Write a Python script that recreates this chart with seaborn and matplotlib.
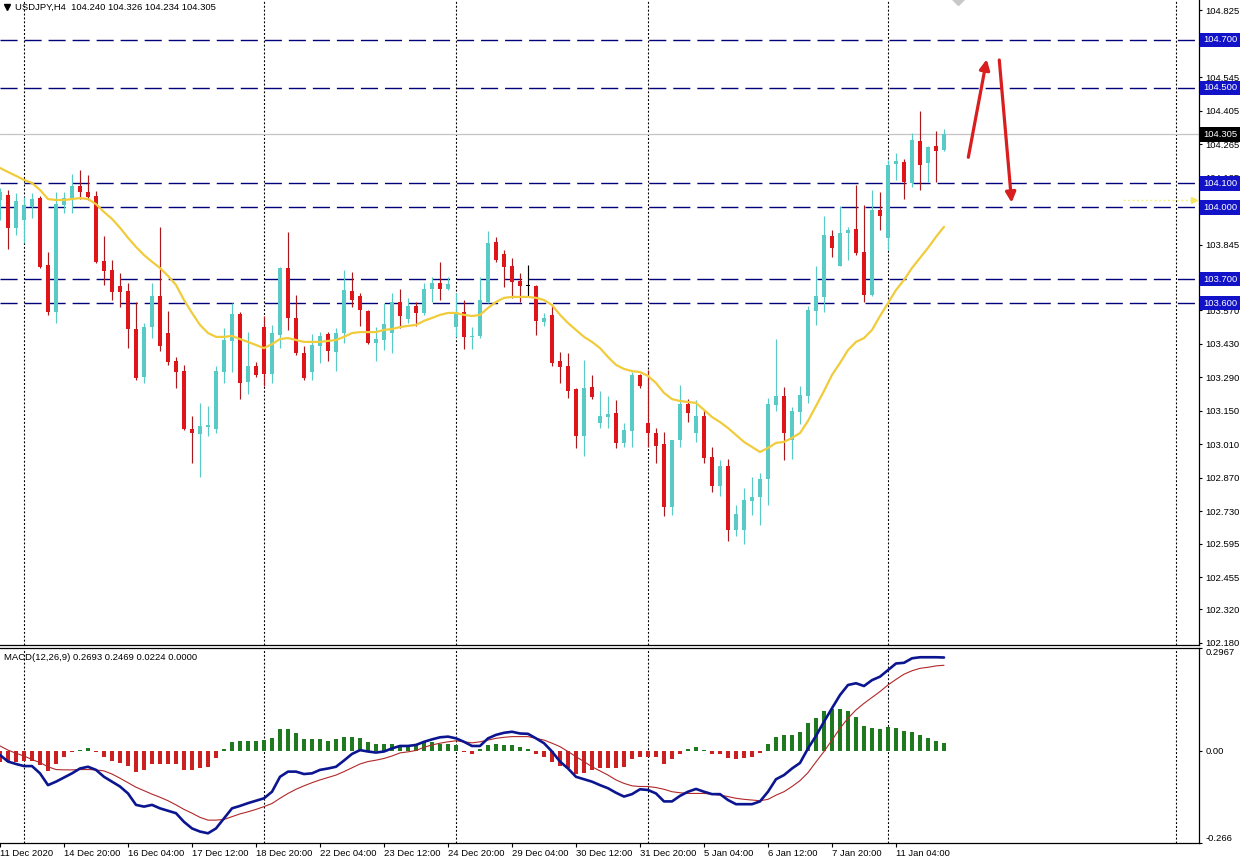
import numpy as np
import pandas as pd
import matplotlib
matplotlib.use("Agg")
import matplotlib.pyplot as plt
import matplotlib.transforms as mtransforms
import seaborn as sns

# ---------------- data ----------------
opens = [104.031, 104.052, 103.915, 103.948, 104.002, 104.039, 103.760, 103.564, 104.010, 104.039,
         104.090, 104.065, 104.048, 103.777, 103.739, 103.672, 103.651, 103.492, 103.291, 103.500,
         103.630, 103.475, 103.358, 103.316, 103.074, 103.053, 103.083, 103.074, 103.312, 103.442,
         103.555, 103.270, 103.337, 103.500, 103.304, 103.467, 103.747, 103.538, 103.392, 103.312,
         103.421, 103.471, 103.396, 103.475, 103.651, 103.630, 103.567, 103.434, 103.446, 103.475,
         103.605, 103.534, 103.588, 103.559, 103.659, 103.684, 103.659, 103.500, 103.564, 103.459,
         103.463, 103.605, 103.856, 103.806, 103.756, 103.693, 103.672, 103.672, 103.521, 103.551,
         103.358, 103.337, 103.241, 103.045, 103.250, 103.099, 103.124, 103.141, 103.016, 103.066,
         103.300, 103.099, 103.057, 103.012, 102.748, 103.028, 103.178, 103.057, 103.129, 102.957,
         102.836, 102.920, 102.652, 102.652, 102.774, 102.790, 102.865, 103.174, 103.212, 103.028,
         103.145, 103.212, 103.567, 103.626, 103.881, 103.756, 103.893, 103.910, 103.814, 103.634,
         103.989, 103.873, 104.181, 104.190, 104.102, 104.278, 104.186, 104.257, 104.240]
highs = [104.082, 104.073, 104.060, 104.044, 104.060, 104.048, 103.814, 104.065, 104.065, 104.140,
         104.157, 104.136, 104.069, 103.881, 103.781, 103.726, 103.684, 103.605, 103.517, 103.684,
         103.919, 103.567, 103.375, 103.342, 103.129, 103.183, 103.170, 103.337, 103.496, 103.600,
         103.564, 103.479, 103.354, 103.546, 103.509, 103.752, 103.898, 103.634, 103.421, 103.471,
         103.479, 103.479, 103.496, 103.739, 103.731, 103.643, 103.572, 103.500, 103.600, 103.643,
         103.659, 103.622, 103.605, 103.684, 103.709, 103.773, 103.709, 103.643, 103.613, 103.500,
         103.709, 103.902, 103.877, 103.822, 103.789, 103.726, 103.760, 103.676, 103.559, 103.592,
         103.396, 103.392, 103.245, 103.363, 103.300, 103.233, 103.212, 103.195, 103.099, 103.312,
         103.304, 103.321, 103.078, 103.062, 103.028, 103.258, 103.199, 103.195, 103.154, 102.999,
         102.945, 102.949, 102.757, 102.828, 102.874, 102.890, 103.204, 103.450, 103.250, 103.166,
         103.254, 103.588, 103.756, 103.964, 103.906, 104.006, 103.919, 104.094, 104.010, 104.073,
         104.065, 104.198, 104.227, 104.202, 104.311, 104.403, 104.257, 104.320, 104.326]
lows = [103.948, 103.826, 103.885, 103.851, 103.956, 103.748, 103.551, 103.517, 103.976, 103.976,
        104.035, 104.031, 103.768, 103.676, 103.613, 103.584, 103.412, 103.279, 103.266, 103.454,
        103.400, 103.342, 103.245, 103.070, 102.932, 102.874, 103.045, 103.057, 103.266, 103.312,
        103.199, 103.220, 103.291, 103.254, 103.266, 103.412, 103.488, 103.384, 103.279, 103.279,
        103.350, 103.358, 103.316, 103.434, 103.584, 103.505, 103.430, 103.358, 103.404, 103.392,
        103.496, 103.517, 103.505, 103.551, 103.605, 103.613, 103.655, 103.459, 103.408, 103.408,
        103.454, 103.600, 103.773, 103.668, 103.622, 103.605, 103.626, 103.467, 103.505, 103.337,
        103.266, 103.204, 102.995, 102.961, 103.199, 103.078, 103.078, 102.995, 102.999, 102.999,
        103.245, 102.999, 102.932, 102.711, 102.715, 102.999, 103.103, 103.020, 102.932, 102.811,
        102.794, 102.606, 102.627, 102.594, 102.715, 102.673, 102.757, 103.150, 102.945, 102.949,
        103.095, 103.183, 103.509, 103.564, 103.793, 103.756, 103.781, 103.801, 103.605, 103.630,
        103.906, 103.822, 104.115, 104.035, 104.086, 104.073, 104.106, 104.106, 104.234]
closes = [104.065, 103.915, 104.027, 104.010, 104.035, 103.752, 103.564, 104.014, 104.039, 104.090,
          104.065, 104.044, 103.773, 103.735, 103.647, 103.647, 103.492, 103.287, 103.500, 103.630,
          103.421, 103.354, 103.312, 103.074, 103.057, 103.087, 103.091, 103.316, 103.446, 103.555,
          103.266, 103.337, 103.300, 103.304, 103.475, 103.747, 103.538, 103.392, 103.287, 103.425,
          103.463, 103.400, 103.475, 103.655, 103.613, 103.572, 103.434, 103.450, 103.513, 103.605,
          103.546, 103.588, 103.559, 103.659, 103.684, 103.659, 103.680, 103.564, 103.459, 103.463,
          103.613, 103.851, 103.781, 103.752, 103.689, 103.672, 103.672, 103.526, 103.538, 103.350,
          103.333, 103.233, 103.045, 103.245, 103.208, 103.129, 103.137, 103.016, 103.070, 103.300,
          103.254, 103.057, 103.003, 102.748, 103.028, 103.178, 103.141, 103.129, 102.953, 102.836,
          102.920, 102.652, 102.719, 102.778, 102.790, 102.865, 103.178, 103.212, 103.057, 103.150,
          103.216, 103.572, 103.630, 103.885, 103.831, 103.893, 103.906, 103.810, 103.634, 103.989,
          103.964, 104.178, 104.194, 104.106, 104.282, 104.178, 104.253, 104.236, 104.305]
ma = [104.165, 104.148, 104.132, 104.115, 104.102, 104.073, 104.035, 104.031, 104.031, 104.035,
      104.039, 104.035, 104.014, 103.981, 103.952, 103.915, 103.873, 103.835, 103.801, 103.773,
      103.747, 103.714, 103.676, 103.613, 103.559, 103.509, 103.475, 103.459, 103.459, 103.463,
      103.450, 103.438, 103.425, 103.412, 103.429, 103.450, 103.454, 103.446, 103.438, 103.438,
      103.438, 103.442, 103.446, 103.459, 103.475, 103.479, 103.479, 103.479, 103.488, 103.492,
      103.500, 103.505, 103.509, 103.526, 103.538, 103.551, 103.559, 103.559, 103.551, 103.546,
      103.551, 103.580, 103.605, 103.622, 103.626, 103.626, 103.626, 103.622, 103.613, 103.592,
      103.551, 103.517, 103.488, 103.459, 103.438, 103.412, 103.375, 103.342, 103.325, 103.316,
      103.312, 103.296, 103.266, 103.225, 103.199, 103.191, 103.187, 103.183, 103.154, 103.124,
      103.103, 103.078, 103.049, 103.020, 102.999, 102.978, 102.995, 103.016, 103.020, 103.037,
      103.057, 103.108, 103.170, 103.233, 103.300, 103.350, 103.404, 103.438, 103.454, 103.488,
      103.546, 103.600, 103.655, 103.697, 103.747, 103.789, 103.831, 103.877, 103.919]
macd_main = [-0.012, -0.031, -0.038, -0.044, -0.044, -0.065, -0.099, -0.089, -0.077, -0.065,
             -0.051, -0.046, -0.055, -0.075, -0.089, -0.103, -0.123, -0.156, -0.161, -0.156,
             -0.166, -0.173, -0.180, -0.205, -0.224, -0.233, -0.238, -0.224, -0.195, -0.166,
             -0.159, -0.151, -0.144, -0.137, -0.118, -0.075, -0.060, -0.060, -0.067, -0.065,
             -0.055, -0.051, -0.046, -0.028, -0.009, 0.002, -0.002, -0.005, -0.002, 0.007,
             0.014, 0.014, 0.017, 0.026, 0.033, 0.039, 0.041, 0.036, 0.026, 0.014,
             0.014, 0.036, 0.046, 0.052, 0.055, 0.050, 0.049, 0.036, 0.022, -0.002,
             -0.031, -0.051, -0.075, -0.082, -0.089, -0.099, -0.108, -0.121, -0.132, -0.125,
             -0.111, -0.113, -0.123, -0.146, -0.146, -0.130, -0.118, -0.110, -0.118, -0.125,
             -0.125, -0.142, -0.154, -0.154, -0.154, -0.146, -0.118, -0.082, -0.070, -0.051,
             -0.035, 0.007, 0.043, 0.084, 0.123, 0.161, 0.190, 0.195, 0.187, 0.204,
             0.214, 0.233, 0.252, 0.254, 0.267, 0.270, 0.270, 0.270, 0.2693]
macd_signal = [0.014, 0.002, -0.007, -0.015, -0.025, -0.034, -0.046, -0.054, -0.055, -0.055,
               -0.054, -0.054, -0.055, -0.058, -0.067, -0.079, -0.092, -0.105, -0.115, -0.125,
               -0.134, -0.144, -0.156, -0.169, -0.180, -0.192, -0.200, -0.200, -0.198, -0.190,
               -0.182, -0.176, -0.169, -0.161, -0.152, -0.137, -0.123, -0.111, -0.101, -0.092,
               -0.084, -0.077, -0.070, -0.060, -0.049, -0.038, -0.031, -0.027, -0.022, -0.015,
               -0.006, -0.003, 0.001, 0.010, 0.017, 0.022, 0.026, 0.029, 0.026, 0.023,
               0.026, 0.031, 0.036, 0.039, 0.041, 0.041, 0.041, 0.036, 0.031, 0.022,
               0.012, -0.002, -0.017, -0.031, -0.046, -0.058, -0.070, -0.084, -0.094, -0.101,
               -0.103, -0.103, -0.106, -0.111, -0.118, -0.121, -0.123, -0.123, -0.123, -0.125,
               -0.128, -0.132, -0.137, -0.140, -0.142, -0.144, -0.140, -0.128, -0.118, -0.103,
               -0.086, -0.063, -0.032, -0.002, 0.031, 0.065, 0.094, 0.118, 0.137, 0.154,
               0.171, 0.190, 0.206, 0.221, 0.231, 0.238, 0.241, 0.245, 0.2469]
macd_hist = [-0.032, -0.032, -0.032, -0.029, -0.029, -0.041, -0.058, -0.038, -0.019, -0.003,
             0.003, 0.009, -0.003, -0.017, -0.029, -0.035, -0.044, -0.061, -0.056, -0.038,
             -0.038, -0.038, -0.038, -0.054, -0.054, -0.051, -0.046, -0.022, 0.004, 0.026,
             0.028, 0.028, 0.028, 0.031, 0.038, 0.063, 0.063, 0.050, 0.034, 0.033,
             0.033, 0.029, 0.033, 0.040, 0.040, 0.036, 0.026, 0.019, 0.019, 0.021,
             0.016, 0.016, 0.016, 0.026, 0.026, 0.021, 0.021, 0.016, -0.002, -0.009,
             0.004, 0.016, 0.019, 0.016, 0.016, 0.012, 0.004, -0.010, -0.017, -0.032,
             -0.044, -0.051, -0.068, -0.064, -0.056, -0.051, -0.051, -0.051, -0.048, -0.025,
             -0.019, -0.019, -0.019, -0.037, -0.025, -0.008, 0.004, 0.010, 0.002, -0.008,
             -0.008, -0.022, -0.025, -0.022, -0.019, -0.006, 0.021, 0.040, 0.045, 0.047,
             0.055, 0.081, 0.095, 0.114, 0.122, 0.120, 0.114, 0.098, 0.071, 0.067,
             0.064, 0.069, 0.067, 0.058, 0.055, 0.045, 0.038, 0.029, 0.0224]

levels = [104.700, 104.500, 104.100, 104.000, 103.700, 103.600]
current_price = 104.305
ma_marker_price = 104.031
price_ticks = [104.825, 104.685, 104.545, 104.405, 104.265, 104.125, 103.985, 103.845, 103.705,
               103.570, 103.430, 103.290, 103.150, 103.010, 102.870, 102.730, 102.595, 102.455,
               102.320, 102.180]
macd_ticks = [0.2967, 0.0, -0.266]
macd_tick_labels = ["0.2967", "0.00", "-0.266"]
date_tick_bars = [0, 8, 16, 24, 32, 40, 48, 56, 64, 72, 80, 88, 96, 104, 112]
date_labels = ["11 Dec 2020", "14 Dec 20:00", "16 Dec 04:00", "17 Dec 12:00", "18 Dec 20:00",
               "22 Dec 04:00", "23 Dec 12:00", "24 Dec 20:00", "29 Dec 04:00", "30 Dec 12:00",
               "31 Dec 20:00", "5 Jan 04:00", "6 Jan 12:00", "7 Jan 20:00", "11 Jan 04:00"]
separator_bars = [3, 33, 57, 81, 111, 147]
arrow_starts = [(121.04, 104.2095), (124.91, 104.616)]
arrow_ends = [(123.34, 104.619), (126.46, 104.0197)]
header = "USDJPY,H4  104.240 104.326 104.234 104.305"
macd_header = "MACD(12,26,9) 0.2693 0.2469 0.0224 0.0000"

# ---------------- style ----------------
sns.set_style("white")
plt.rcParams['font.family'] = ['Liberation Sans', 'DejaVu Sans']
plt.rcParams['lines.scale_dashes'] = False
FS = 6.8

TEAL = '#58CBC7'
RED = '#DF1519'
RED_WICK = '#A8181C'
MA_COL = '#F0CC3C'
LEVEL_COL = '#00007A'
BOX_COL = '#1212C8'
BLUE = '#0B1590'
SIG = '#B0282A'
HGREEN = '#1F7A1F'
HRED = '#CC2020'

df = pd.DataFrame({'bar': np.arange(len(opens)), 'open': opens, 'high': highs,
                   'low': lows, 'close': closes, 'ma': ma,
                   'macd': macd_main, 'signal': macd_signal, 'hist': macd_hist})

W, H = 1244, 858
fig = plt.figure(figsize=(W / 100, H / 100), dpi=100)
fig.patch.set_facecolor('white')
right = 1199 / W
ax1 = fig.add_axes([0, 1 - 645 / H, right, 645 / H])
ax2 = fig.add_axes([0, 1 - 843 / H, right, 195 / H])

XMAX = 1199 / 8
for ax in (ax1, ax2):
    ax.set_facecolor('white')
    ax.set_xlim(0, XMAX)
    ax.spines['left'].set_visible(False)
    for s in ax.spines.values():
        s.set_color('black')
        s.set_linewidth(0.9)
ax1.spines['top'].set_visible(False)

ax1.set_ylim(102.1714, 104.8668)
ax2.set_ylim(-0.266, 0.2967)

# separators
for ax in (ax1, ax2):
    for s in separator_bars:
        ax.axvline(s, color='black', lw=0.8, dashes=(1.4, 1.4), zorder=1)

# levels
for lv in levels:
    ax1.axhline(lv, color=LEVEL_COL, lw=1.0, dashes=(12.3, 5.0), zorder=2)
ax1.axhline(current_price, color='#C4C4C4', lw=0.9, zorder=1.5)

# candles
up = df['close'] > df['open']
down = df['close'] < df['open']
body_col = np.where(up, TEAL, np.where(down, RED, 'black'))
wick_col = np.where(up, TEAL, np.where(down, RED_WICK, 'black'))
ax1.vlines(df['bar'], df['low'], df['high'], colors=wick_col, lw=0.85, zorder=3)
bottom = np.minimum(df['open'], df['close'])
height = np.maximum((df['close'] - df['open']).abs(), 0.004)
ax1.bar(df['bar'], height, bottom=bottom, width=0.56, color=body_col, lw=0, zorder=4)

# moving average
sns.lineplot(x=df['bar'], y=df['ma'], ax=ax1, color=MA_COL, lw=1.6, legend=False, zorder=5)

# MA marker at price scale
ax1.plot([140.4, 149.1], [ma_marker_price, ma_marker_price], color='#F3EE8A', lw=1.0,
         dashes=(1.6, 1.6), zorder=3)
ax1.plot([149.3], [ma_marker_price], marker='>', ms=4.5, color='#F3E860', zorder=3)

# arrows
for (x0, y0), (x1, y1) in zip(arrow_starts, arrow_ends):
    ax1.annotate('', xy=(x1, y1), xytext=(x0, y0),
                 arrowprops=dict(arrowstyle='-|>', color='#D81E1E', lw=2.3,
                                 mutation_scale=15, shrinkA=0, shrinkB=0), zorder=8)
# partial grey object at the top edge
ax1.plot([119.75], [104.875], marker='D', ms=7, color='#C8C8C8', zorder=6)

# price axis
ax1.yaxis.tick_right()
ax1.set_yticks(price_ticks)
ax1.set_yticklabels([f"{v:.3f}" for v in price_ticks])
ax1.tick_params(axis='y', direction='out', length=2.3, width=0.8, pad=2.4, labelsize=FS,
                colors='black', right=True, left=False)
ax1.set_xticks([])
ax1.set_ylabel('')
ax1.set_xlabel('')

trans1 = mtransforms.blended_transform_factory(ax1.transAxes, ax1.transData)
for lv in levels:
    ax1.text(1 + 4 / 1199, lv, f"{lv:.3f}", transform=trans1, ha='left', va='center',
             color='white', fontsize=FS,
             bbox=dict(boxstyle='square,pad=0.28', fc=BOX_COL, ec='none'),
             clip_on=False, zorder=10)
ax1.text(1 + 4 / 1199, current_price, f"{current_price:.3f}", transform=trans1, ha='left',
         va='center', color='white', fontsize=FS,
         bbox=dict(boxstyle='square,pad=0.28', fc='black', ec='none'),
         clip_on=False, zorder=10)

# header
ax1.plot([7 / 1199], [1 - 7 / 645], marker='v', ms=4.2, color='black',
         transform=ax1.transAxes, clip_on=False)
ax1.text(15 / 1199, 1 - 7.5 / 645, header, transform=ax1.transAxes, fontsize=FS,
         va='center', ha='left', color='black')

# MACD panel
hcol = np.where(df['hist'] >= 0, HGREEN, HRED)
ax2.bar(df['bar'], df['hist'], width=0.42, color=hcol, lw=0, zorder=2)
sns.lineplot(x=df['bar'], y=df['signal'], ax=ax2, color=SIG, lw=0.8, legend=False, zorder=3)
sns.lineplot(x=df['bar'], y=df['macd'], ax=ax2, color=BLUE, lw=1.9, legend=False, zorder=4)
ax2.text(4 / 1199, 1 - 9 / 195, macd_header, transform=ax2.transAxes, fontsize=FS,
         va='center', ha='left', color='black')

ax2.yaxis.tick_right()
ax2.set_yticks(macd_ticks)
ax2.set_yticklabels(macd_tick_labels)
ax2.tick_params(axis='y', direction='out', length=2.3, width=0.8, pad=2.4, labelsize=FS,
                colors='black', right=True, left=False)
ylabs = ax2.get_yticklabels()
ylabs[0].set_va('top')
ylabs[2].set_va('bottom')

ax2.set_xticks(date_tick_bars)
ax2.set_xticklabels(date_labels)
for lab in ax2.get_xticklabels():
    lab.set_ha('left')
ax2.tick_params(axis='x', direction='out', length=3, width=0.8, pad=1.2, labelsize=FS,
                colors='black', bottom=True)
ax2.set_ylabel('')
ax2.set_xlabel('')

fig.savefig('out.png', dpi=100, facecolor='white')
